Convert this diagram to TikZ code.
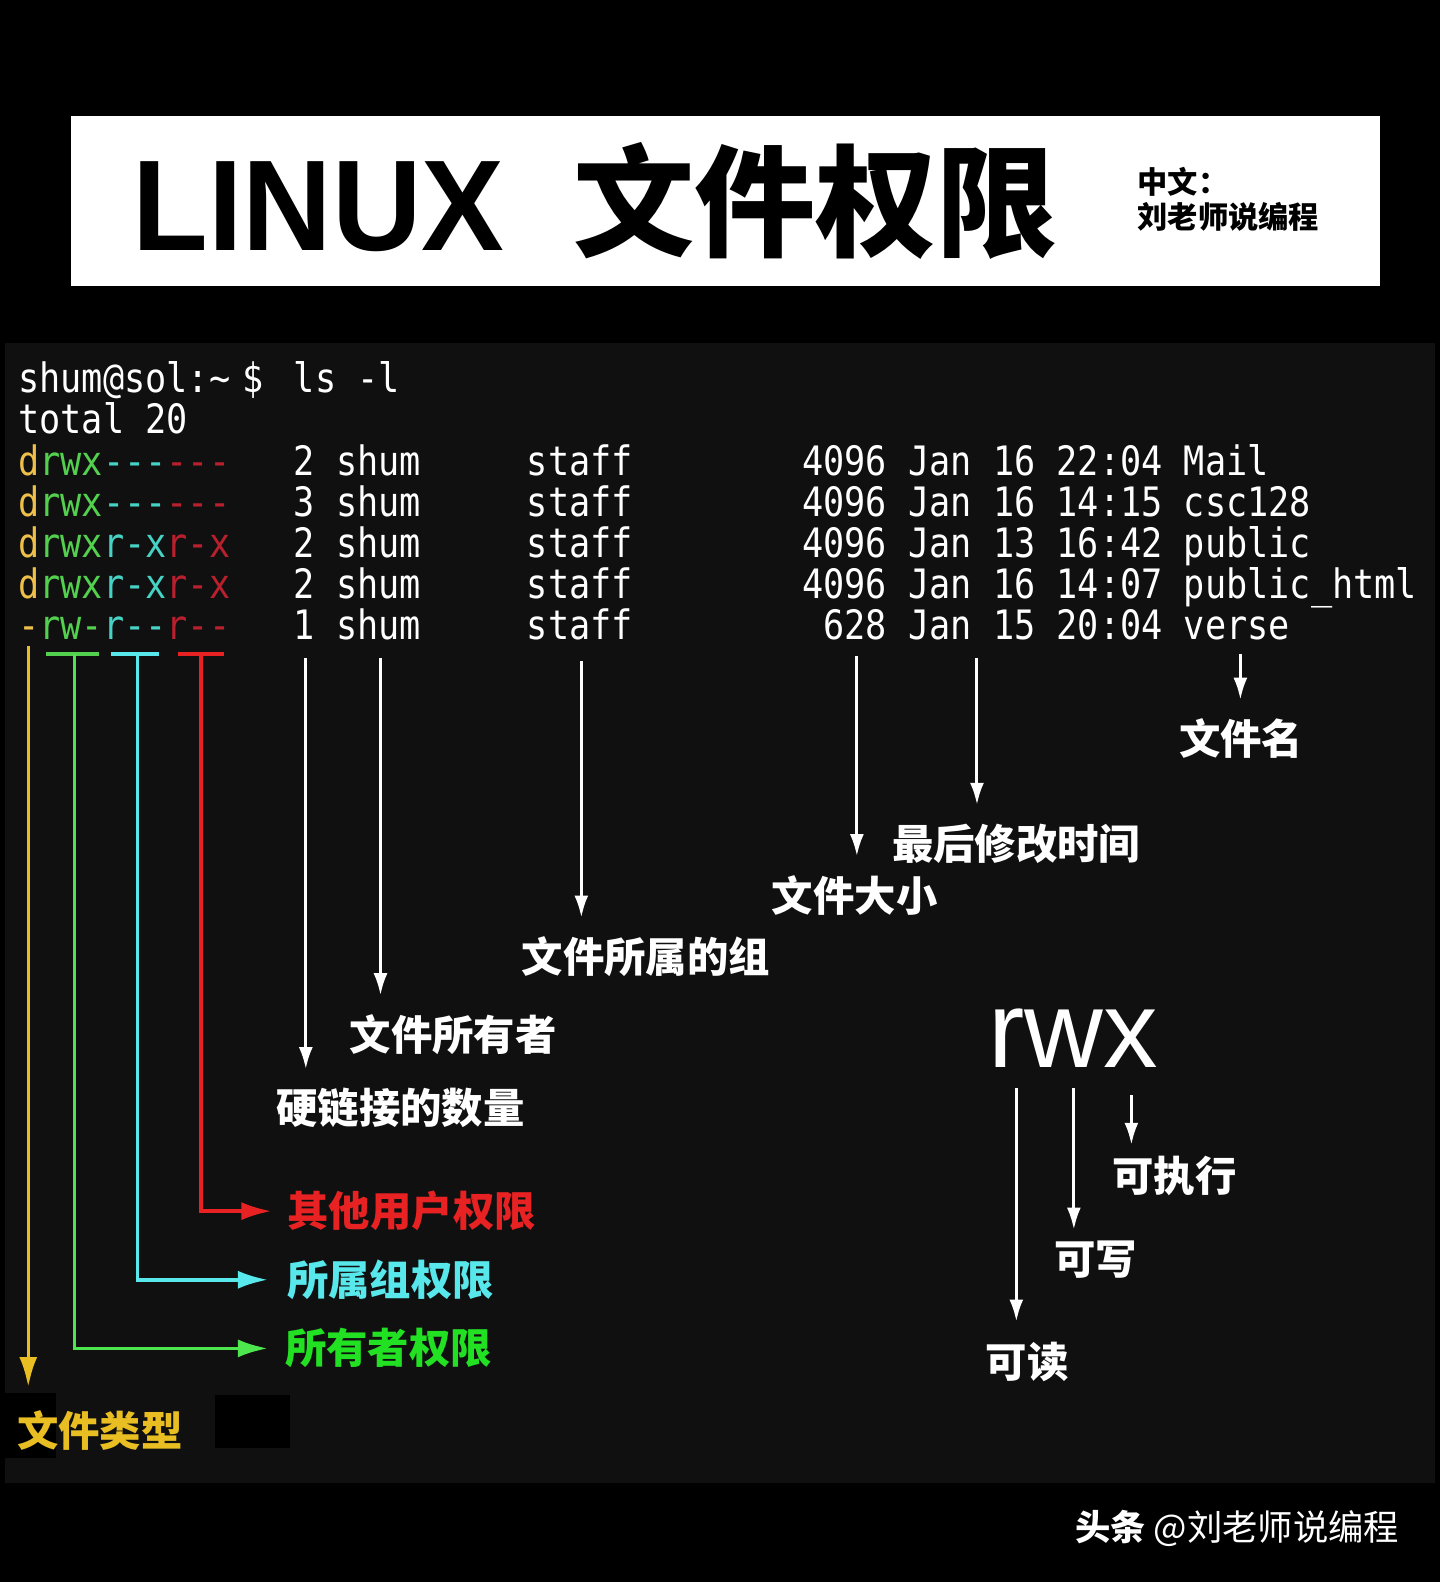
\documentclass[tikz,border=0pt]{standalone}
\usepackage{fontspec}
\setmainfont{Liberation Sans}
\setmonofont{DejaVu Sans Mono}
\newfontfamily\cjk{Noto Sans CJK SC}
\usetikzlibrary{arrows.meta}
\definecolor{termbg}{HTML}{101010}
\definecolor{permyel}{HTML}{EEC04A}
\definecolor{permgrn}{HTML}{52D04E}
\definecolor{permcyn}{HTML}{46D2C4}
\definecolor{permred}{HTML}{B8202E}
\definecolor{labyel}{HTML}{E8BE22}
\definecolor{labgrn}{HTML}{22E022}
\definecolor{labcyn}{HTML}{58E8EC}
\definecolor{labred}{HTML}{E82222}
\newcommand{\tallmono}[1]{\scalebox{1}[1.15]{#1}}
\tikzset{
  term/.style={anchor=base west, inner sep=0pt, text=white,
    font=\ttfamily\fontsize{34.9}{35}\selectfont},
  lab/.style={inner sep=0pt, text=white, font=\cjk\bfseries\fontsize{41}{41}\selectfont},
  wharrow/.style={draw=white, line width=3pt, -{Latex[length=22pt,width=14pt]}, shorten >=19pt},
  colarrow/.style={line width=3.5pt, -{Latex[length=30pt,width=18pt]}},
  tbar/.style={line width=4pt},
}
\begin{document}
\begin{tikzpicture}[x=1pt,y=-1pt,scale=1.0091,transform shape]
        \useasboundingbox (0,0) rectangle (1427,1567.7);
        \fill[black] (0,0) rectangle (1427,1567.7);
        \fill[termbg] (5,340) rectangle (1422,1470);
        \fill[black] (0,1380) rectangle (55,1445);
        \fill[black] (213,1382) rectangle (287,1435);
        % title
        \fill[white] (70,115) rectangle (1368,283);
        \node[anchor=base west, inner sep=0pt, font=\bfseries\fontsize{128}{128}\selectfont] (linux) at (131,248) {\scalebox{0.96}[1]{LINUX}};
        \node[inner sep=0pt, font=\cjk\bfseries\fontsize{120}{120}\selectfont] (title) at (808,199) {文件权限};
        \node[anchor=west, inner sep=0pt, font=\cjk\bfseries\fontsize{30}{30}\selectfont] (sub1) at (1127,180) {中文：};
        \node[anchor=west, inner sep=0pt, font=\cjk\bfseries\fontsize{30}{30}\selectfont] (sub2) at (1127,215) {刘老师说编程};
        % listing
        \node[term] (prompt) at (18,389) {\tallmono{shum@sol:\textasciitilde}};
        \node[term] (dollar) at (240,389) {\tallmono{\$}};
        \node[term] (cmd) at (291,389) {\tallmono{ls -l}};
        \node[term] (total) at (18,430) {\tallmono{total 20}};
        \foreach \t/\u/\g/\o/\n/\sz/\d/\hm/\fn [count=\i] in {
            d/rwx/---/---/2/4096/16/22:04/Mail,
            d/rwx/---/---/3/4096/16/14:15/csc128,
            d/rwx/r-x/r-x/2/4096/13/16:42/public,
            d/rwx/r-x/r-x/2/4096/16/14:07/public\_html,
            -/rw-/r--/r--/1/628/15/20:04/verse}{
          \pgfmathsetmacro\yy{471+40.75*(\i-1)}
          \node[term] (perm\i) at (18,\yy) {\tallmono{\textcolor{permyel}{\t}\textcolor{permgrn}{\u}\textcolor{permcyn}{\g}\textcolor{permred}{\o}}};
          \node[term] (lnk\i) at (291,\yy) {\tallmono{\n}};
          \node[term] (own\i) at (333,\yy) {\tallmono{shum}};
          \node[term] (grp\i) at (522,\yy) {\tallmono{staff}};
          \node[term, anchor=base east] (size\i) at (879,\yy) {\tallmono{\sz}};
          \node[term] (mon\i) at (900,\yy) {\tallmono{Jan}};
          \node[term] (day\i) at (984,\yy) {\tallmono{\d}};
          \node[term] (hm\i) at (1047,\yy) {\tallmono{\hm}};
          \node[term] (fn\i) at (1173,\yy) {\tallmono{\fn}};
        }
        % labels
        \node[lab] (lablink) at (397,1098) {硬链接的数量};
        \node[lab] (labown) at (449,1025) {文件所有者};
        \node[lab] (labgrp) at (640,948) {文件所属的组};
        \node[lab] (labsize) at (847,887) {文件大小};
        \node[lab] (labtime) at (1007,836) {最后修改时间};
        \node[lab] (labname) at (1230,732) {文件名};
        \node[lab, text=labred] (laboth) at (408,1200) {其他用户权限};
        \node[lab, text=labcyn] (labgperm) at (387,1268) {所属组权限};
        \node[lab, text=labgrn] (labuperm) at (385,1336) {所有者权限};
        \node[lab, text=labyel] (labtype) at (99,1418) {文件类型};
        % white arrows
        \coordinate (lnktop) at (303,652);
        \coordinate (owntop) at (377,652);
        \coordinate (grptop) at (576,655);
        \coordinate (sizetop) at (849,650);
        \coordinate (timetop) at (968,652);
        \coordinate (nametop) at (1229,648);
        \draw[wharrow] (lnktop) -- (lnktop |- lablink.north);
        \draw[wharrow] (owntop) -- (owntop |- labown.north);
        \draw[wharrow] (grptop) -- (grptop |- labgrp.north);
        \draw[wharrow] (sizetop) -- (sizetop |- labsize.north);
        \draw[wharrow] (timetop) -- (timetop |- labtime.north);
        \draw[wharrow] (nametop) -- (nametop |- labname.north);
        % permission brackets
        \coordinate (typetop) at (28,640);
        \coordinate (usrtop) at (74,648);
        \coordinate (gtop) at (136,648);
        \coordinate (othtop) at (199,648);
        \draw[tbar, permgrn] (46,648) -- (98,648);
        \draw[tbar, labcyn] (110,648) -- (158,648);
        \draw[tbar, labred] (176,648) -- (222,648);
        \draw[colarrow, labyel, shorten >=24pt] (typetop) -- (typetop |- labtype.north);
        \draw[colarrow, labgrn!80!white, shorten >=17pt] (usrtop) |- (labuperm.west);
        \draw[colarrow, labcyn, shorten >=19pt] (gtop) |- (labgperm.west);
        \draw[colarrow, labred, shorten >=16pt] (othtop) |- (laboth.west);
        % rwx
        \node[anchor=base west, inner sep=0pt, text=white, font=\fontsize{108}{108}\selectfont] (rwx) at (979,1058) {rwx};
        \node[lab] (labx) at (1164,1165) {可执行};
        \node[lab] (labw) at (1086,1248) {可写};
        \node[lab] (labr) at (1018,1350) {可读};
        \coordinate (rtop) at (1007,1078);
        \coordinate (wtop) at (1064,1078);
        \coordinate (xtop) at (1121,1085);
        \draw[wharrow, shorten >=21pt] (rtop) -- (rtop |- labr.north);
        \draw[wharrow, shorten >=11pt] (wtop) -- (wtop |- labw.north);
        \draw[wharrow, shorten >=11pt] (xtop) -- (xtop |- labx.north);
        % footer
        \node[inner sep=0pt, text=white, font=\cjk\fontsize{35}{35}\selectfont] (footer) at (1226,1515) {{\bfseries 头条} @刘老师说编程};
    \end{tikzpicture}
\end{document}
